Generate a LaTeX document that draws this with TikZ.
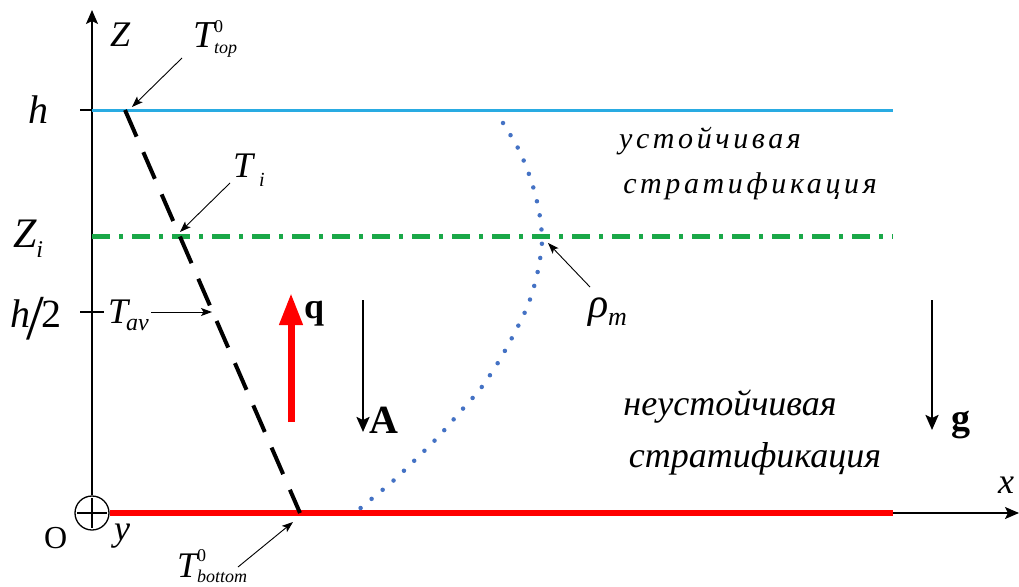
\documentclass[tikz,border=0pt]{standalone}
\usepackage{fontspec}
\setmainfont{Liberation Serif}
\newfontfamily\spacedfont[LetterSpace=12]{Liberation Serif}
\usetikzlibrary{arrows.meta}
\definecolor{cyanline}{RGB}{41,171,226}
\definecolor{greenline}{RGB}{26,168,72}
\definecolor{dotblue}{RGB}{68,114,196}
\newcommand\fs[1]{\fontsize{#1}{#1}\selectfont}
\newcommand\supsub[3]{\fs{#1}\rlap{\raisebox{0.85em}{#2}}\raisebox{-0.3em}{#3}}
\begin{document}
\begin{tikzpicture}[x=1pt,y=-1pt,
  thinarrow/.style={draw, line width=0.9pt, -{Stealth[length=11pt,width=8pt,inset=2.5pt]}},
  axisline/.style={draw, line width=1.6pt},
  vecarrow/.style={draw, line width=2.4pt, -{Stealth[length=15pt,width=13pt,inset=3pt]}},
  lab/.style={anchor=base west, inner sep=0pt, outer sep=0pt},
]
\useasboundingbox (0,0) rectangle (1019,586);

% coordinates
\coordinate (ztip) at (92,10);
\coordinate (xtip) at (1019,513);
\coordinate (redend) at (893,513);
\coordinate (htick) at (80,110);
\coordinate (hleft) at (92,110);
\coordinate (hright) at (893,110);
\coordinate (zileft) at (92,236);
\coordinate (ziright) at (893,236);
\coordinate (h2a) at (80,312);
\coordinate (h2b) at (104,312);
\coordinate (ttop) at (125,110);
\coordinate (tbot) at (300,513);

% origin symbol
\node[circle, draw, line width=1.3pt, minimum size=34pt, inner sep=0pt] (orig) at (92,513) {};
\draw[line width=1.3pt, shorten <=3pt, shorten >=3pt] (orig.north) -- (orig.south);
\draw[line width=1.3pt, shorten <=3pt, shorten >=3pt] (orig.west) -- (orig.east);

% axes
\draw[axisline, -{Stealth[length=14pt,width=12pt,inset=3pt]}] (orig.north) -- (ztip);
\draw[axisline, -{Stealth[length=14pt,width=12pt,inset=3pt]}] (orig.east) -- (xtip);
\draw[red, line width=6pt] (orig.east) -- (redend);

% level lines
\draw[axisline] (htick) -- (hleft);
\draw[cyanline, line width=3pt] (hleft) -- (hright);
\draw[greenline, line width=5pt, dash pattern=on 18pt off 9pt on 4pt off 9pt] (zileft) -- (ziright);
\draw[axisline] (h2a) -- (h2b);

% temperature profile
\draw[line width=4pt, dash pattern=on 29pt off 17pt] (ttop) -- (tbot);

% density profile
\draw[dotblue, line width=4.5pt, line cap=round, dash pattern=on 0pt off 14.3pt]
  plot[smooth] coordinates {(503,123) (519,150) (531,180) (539,211) (542,242) (537,275) (528,305) (514,334) (499,361) (481,388) (460,412) (439,436) (416,459) (393,481) (369,501) (357,511)};

% axis labels
\node[lab] (lz) at (110,47) {\fs{36}\itshape Z};
\node[lab] (lh) at (28,123) {\fs{40}\itshape h};
\node[lab] (lzi) at (13,247) {\fs{42}\itshape Z\raisebox{-0.25em}{\fs{24}i}};
\node[lab] (lh2) at (10,327) {\fs{40}\itshape h\hspace{-3pt}\raisebox{-12pt}{\fs{64}\upshape /}\hspace{-3pt}\upshape 2};
\node[lab] (lo) at (44,548) {\fs{32}O};
\node[lab] (ly) at (114,540) {\fs{36}\itshape y};
\node[lab] (lx) at (998,493) {\fs{36}\itshape x};

% temperature labels
\node[lab] (lttop) at (193,48) {\fs{38}\itshape T\supsub{18}{\upshape 0}{top}};
\coordinate (attop) at (182,58);
\draw[thinarrow] (attop) -- (132,107);

\node[lab] (lti) at (233,177) {\fs{36}\itshape T\hspace{6pt}\raisebox{-0.25em}{\fs{20}i}};
\coordinate (ati) at (230,183);
\coordinate (tti) at (180,232);
\draw[thinarrow] (ati) -- (tti);

\node[lab] (ltav) at (108,323) {\fs{36}\itshape T\raisebox{-0.2em}{\fs{24}\hspace{-2pt}av}};
\coordinate (atav) at (151,312);
\coordinate (ttav) at (212,312);
\draw[thinarrow] (atav) -- (ttav);

\node[lab] (ltbot) at (177,577) {\fs{36}\itshape T\supsub{18}{\upshape 0}{bottom}};
\coordinate (atbot) at (238,567);
\coordinate (ttbot) at (293,522);
\draw[thinarrow] (atbot) -- (ttbot);

\node[lab] (lrho) at (588,317) {\fs{42}\itshape ρ\raisebox{-0.2em}{\fs{26}m}};
\coordinate (arho) at (590,287);
\coordinate (trho) at (548,243);
\draw[thinarrow] (arho) -- (trho);

% vectors
\coordinate (qs) at (291,422);
\coordinate (qe) at (291,293);
\draw[red, line width=7pt, -{Triangle[length=32pt,width=22pt]}] (qs) -- (qe);
\node[lab] (lq) at (304,318) {\fs{36}\bfseries q};

\coordinate (as) at (363,300);
\coordinate (ae) at (363,432);
\draw[vecarrow] (as) -- (ae);
\node[lab] (la) at (369,433) {\fs{40}\bfseries A};

\coordinate (gs) at (932,300);
\coordinate (ge) at (932,430);
\draw[vecarrow] (gs) -- (ge);
\node[lab] (lg) at (951,430) {\fs{38}\bfseries g};

% region labels
\node[anchor=base, inner sep=0pt] (st1) at (710,148) {\fs{30}\spacedfont\itshape устойчивая};
\node[anchor=base, inner sep=0pt] (st2) at (750,193) {\fs{30}\spacedfont\itshape стратификация};
\node[anchor=base, inner sep=0pt] (un1) at (730,415) {\fs{36}\itshape неустойчивая};
\node[anchor=base, inner sep=0pt] (un2) at (755,467) {\fs{36}\itshape стратификация};
\end{tikzpicture}
\end{document}
